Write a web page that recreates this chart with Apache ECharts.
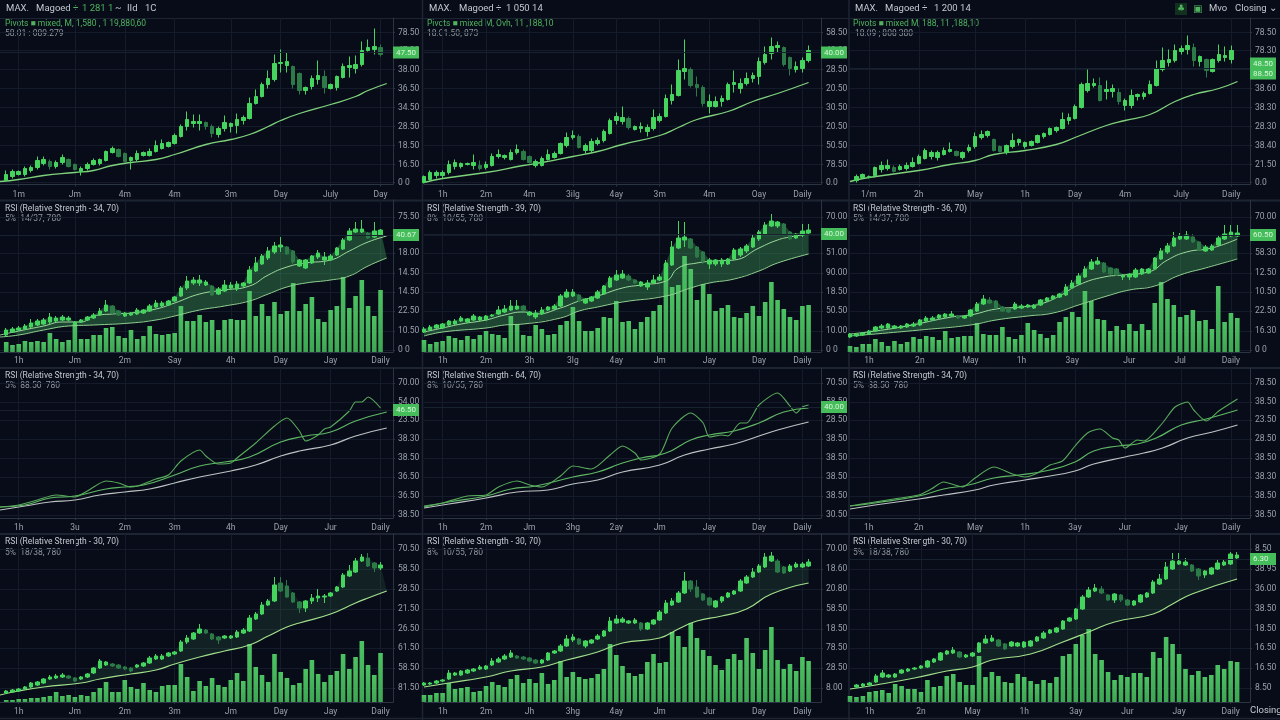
<!DOCTYPE html>
<html>
<head>
<meta charset="utf-8">
<style>html,body{margin:0;background:#080c18}#chart{width:1280px;height:720px}</style>
<script src="https://cdn.jsdelivr.net/npm/echarts@6/dist/echarts.min.js"></script>
</head>
<body>
<div id="chart"></div>
<script>
// Candles are [open, close, low, high]; all series share one price scale per panel.
const candlesR1C1 = [[4,10,3,14],[8,13,6,15],[10,13,9,14],[10,16,8,18],[14,17,12,19],[17,24,15,28],[21,25,19,28],[23,18,15,25],[18,22,16,24],[22,27,20,30],[25,18,17,26],[20,15,14,21],[13,16,9,18],[16,20,14,22],[20,24,19,26],[21,25,19,26],[24,33,23,34],[32,36,31,38],[35,28,27,36],[31,23,22,32],[24,27,15,28],[25,31,23,34],[29,32,28,33],[29,33,28,36],[33,39,32,44],[36,41,35,45],[38,42,37,43],[41,49,40,51],[48,58,47,60],[58,65,54,73],[61,63,57,70],[61,63,54,70],[62,58,55,63],[58,51,47,60],[50,56,47,58],[56,62,53,69],[58,61,52,62],[59,65,51,71],[64,67,60,69],[66,81,65,87],[81,88,80,95],[88,100,87,102],[100,106,96,114],[105,121,103,130],[121,122,112,135],[119,123,112,132],[118,100,96,119],[111,94,90,112],[94,97,90,98],[98,106,95,109],[105,109,100,124],[108,97,91,114],[96,100,95,101],[97,108,94,109],[107,118,106,121],[117,119,107,128],[116,120,111,129],[120,134,118,143],[134,137,133,145],[135,138,130,156],[137,130,128,140]];
const candlesR1C2 = [[2,8,1,9],[5,12,4,14],[9,12,6,14],[9,12,6,14],[12,20,10,24],[18,22,15,25],[18,21,16,22],[20,21,19,22],[19,22,15,30],[19,16,14,24],[17,20,15,23],[19,28,18,31],[28,30,26,35],[27,29,25,30],[25,32,24,35],[32,35,30,40],[33,25,24,35],[28,22,21,29],[19,23,17,25],[19,26,18,28],[25,30,24,35],[27,31,26,33],[31,41,30,42],[39,47,37,52],[47,49,45,54],[48,37,36,50],[34,39,31,41],[34,43,32,46],[41,44,39,47],[44,53,42,55],[51,64,50,66],[64,68,60,72],[63,67,60,78],[66,57,55,68],[55,58,54,59],[56,58,52,62],[53,57,48,60],[56,67,54,75],[64,68,62,71],[68,86,67,90],[84,90,80,100],[89,114,88,125],[113,116,105,145],[115,99,97,117],[100,97,88,108],[97,81,78,99],[78,83,71,90],[78,83,77,88],[83,86,78,89],[85,100,84,102],[100,102,92,114],[96,101,91,106],[101,106,99,112],[106,109,102,112],[108,123,100,127],[122,130,120,138],[131,138,125,147],[137,139,132,143],[137,120,118,138],[127,116,109,128],[115,118,112,123],[116,124,112,127],[124,134,122,139]];
const candlesR1C3 = [[4,8,2,10],[7,10,6,11],[7,8,6,9],[9,17,7,18],[15,19,12,23],[16,19,14,25],[17,13,12,19],[15,18,14,20],[16,19,14,22],[18,22,17,27],[21,28,20,30],[26,34,25,36],[28,32,25,34],[27,32,24,34],[30,34,29,37],[33,35,32,42],[33,29,28,34],[27,32,25,33],[34,37,32,40],[38,48,36,52],[47,50,45,54],[49,53,47,54],[45,34,33,46],[38,33,32,39],[32,39,30,40],[38,44,36,51],[42,45,39,46],[38,42,36,43],[39,43,38,44],[42,49,41,50],[48,51,46,52],[50,56,49,57],[54,57,52,58],[56,65,55,72],[64,67,60,71],[66,78,65,80],[77,100,76,102],[94,101,92,115],[99,101,97,106],[99,84,83,107],[93,95,85,104],[93,96,87,100],[92,83,80,96],[79,84,74,86],[79,89,76,95],[88,90,84,91],[88,91,85,93],[91,100,90,104],[99,116,98,124],[115,124,113,137],[122,125,118,135],[124,134,122,140],[133,136,130,139],[135,139,130,149],[137,124,118,141],[123,128,118,129],[125,114,107,126],[113,125,112,126],[124,130,122,140],[127,129,123,138],[125,134,121,139]];
const candlesR2C1 = [[17,22,15,24],[20,23,19,25],[22,24,21,26],[23,26,22,28],[25,29,24,33],[27,31,26,33],[28,32,27,34],[30,35,28,39],[31,34,30,36],[32,35,31,37],[32,34,31,36],[28,30,27,31],[30,32,29,33],[32,35,31,36],[34,37,33,39],[37,41,36,44],[41,47,40,52],[46,39,38,47],[41,37,36,42],[36,39,35,40],[37,39,36,40],[38,42,37,44],[39,42,38,43],[41,46,40,48],[45,49,44,52],[46,49,45,51],[47,51,46,52],[51,55,50,56],[56,64,55,66],[64,71,62,76],[69,72,67,75],[69,72,66,77],[67,70,66,72],[66,57,56,67],[58,63,57,65],[61,67,60,72],[64,67,62,70],[63,68,61,71],[66,69,65,70],[69,82,68,86],[81,89,80,95],[88,96,87,98],[94,101,92,105],[100,106,98,110],[105,107,100,115],[105,98,97,106],[101,90,88,102],[86,92,85,93],[84,92,83,93],[89,96,88,97],[95,99,93,102],[92,95,87,100],[92,96,91,98],[97,104,96,105],[103,112,102,114],[112,121,111,124],[120,123,119,130],[120,123,119,132],[119,114,113,120],[115,121,114,130],[117,122,116,123]];
const candlesR2C2 = [[20,23,19,25],[22,25,21,27],[24,27,23,28],[24,28,23,29],[27,31,26,32],[28,31,27,33],[31,34,30,36],[30,33,29,34],[32,36,31,38],[32,35,31,36],[32,36,31,37],[36,37,35,38],[38,42,37,46],[40,43,39,47],[42,46,41,52],[43,46,42,52],[46,42,41,47],[37,40,36,41],[35,39,33,42],[38,42,37,45],[42,45,41,46],[43,46,42,48],[46,56,45,58],[55,60,54,63],[56,60,55,63],[57,51,50,58],[49,53,48,54],[51,55,50,56],[54,60,53,62],[58,66,57,67],[65,74,64,76],[72,77,71,82],[74,78,73,82],[76,72,71,78],[72,69,68,73],[66,70,65,71],[65,69,62,72],[69,72,68,77],[72,75,71,78],[72,89,71,92],[87,105,86,111],[104,114,103,131],[112,115,105,130],[113,104,103,114],[105,95,94,106],[100,91,88,101],[88,92,83,94],[88,92,86,93],[88,92,85,94],[88,93,87,94],[93,102,92,104],[97,103,95,105],[101,106,99,108],[105,114,104,117],[113,120,111,122],[118,127,117,130],[126,131,125,138],[126,130,124,131],[128,118,117,129],[120,113,112,121],[114,118,113,119],[117,121,115,128],[119,122,118,128]];
const candlesR2C3 = [[15,18,14,19],[16,18,15,19],[17,19,16,20],[18,21,17,22],[21,25,20,26],[24,26,23,28],[24,28,23,29],[24,26,23,27],[24,26,23,27],[25,28,24,29],[26,28,25,30],[27,32,26,33],[31,34,30,36],[32,34,31,36],[34,37,33,38],[35,38,34,39],[36,38,35,41],[36,34,33,37],[34,36,33,37],[36,42,35,43],[41,48,40,50],[48,53,47,57],[52,49,48,55],[51,44,43,52],[45,41,40,46],[43,40,39,44],[43,48,42,50],[44,46,43,48],[45,47,44,48],[44,47,43,48],[47,52,46,53],[51,54,50,55],[53,56,52,57],[55,58,54,59],[57,65,56,68],[64,69,63,72],[68,76,67,79],[75,83,74,86],[83,90,82,93],[88,91,87,95],[89,80,79,90],[84,78,77,85],[83,77,76,84],[75,77,72,78],[75,78,72,79],[75,82,74,84],[78,83,77,84],[79,83,78,84],[83,94,82,95],[93,101,92,104],[100,106,98,109],[106,114,105,120],[113,116,112,119],[113,117,112,121],[115,110,109,118],[110,102,101,111],[101,105,100,107],[102,106,101,108],[107,114,106,116],[113,118,112,127],[116,120,115,127],[116,119,115,127]];
const candlesR4C1 = [[9,11,8,12],[10,12,9,13],[11,13,10,14],[13,15,12,16],[15,19,14,20],[17,20,16,21],[19,23,18,24],[23,25,22,27],[24,26,23,28],[25,27,24,29],[26,24,23,27],[24,21,20,25],[23,25,22,26],[25,28,24,29],[29,34,28,35],[34,41,33,43],[37,40,36,41],[38,36,35,39],[37,34,33,38],[35,33,32,36],[34,31,30,35],[35,37,34,38],[36,39,35,40],[39,44,38,46],[43,46,42,48],[43,46,42,48],[46,49,45,50],[48,50,47,51],[51,60,50,62],[60,64,58,67],[63,69,62,70],[69,73,68,78],[72,69,68,73],[68,63,62,69],[65,62,58,66],[64,66,63,67],[64,66,63,67],[65,70,64,72],[69,72,68,74],[71,84,70,87],[83,88,82,90],[88,97,87,100],[97,101,96,103],[101,117,100,125],[119,111,110,125],[116,105,104,122],[109,100,99,110],[100,94,89,101],[94,101,90,102],[101,104,98,108],[104,106,100,113],[105,106,99,108],[106,109,105,110],[111,115,110,116],[115,127,114,129],[126,131,125,137],[130,141,129,144],[141,145,140,148],[144,136,135,149],[139,134,130,140],[134,137,132,140]];
const candlesR4C2 = [[17,19,16,20],[18,19,17,20],[19,21,18,22],[21,22,20,23],[23,29,22,32],[27,29,26,30],[27,31,26,32],[29,32,28,33],[31,33,30,34],[33,35,32,37],[33,36,32,37],[37,41,36,44],[40,43,39,45],[43,46,42,48],[45,49,44,52],[46,44,43,47],[45,43,42,46],[44,41,40,45],[42,39,38,43],[39,42,38,43],[42,49,41,50],[49,51,48,52],[51,56,50,58],[56,63,55,67],[62,65,60,68],[63,58,57,64],[56,61,54,62],[59,62,58,63],[63,66,62,68],[66,71,65,72],[71,81,70,85],[79,83,78,87],[80,83,79,85],[79,81,78,82],[79,82,78,84],[79,73,71,80],[73,79,72,80],[78,82,77,83],[82,90,81,92],[89,99,88,102],[97,101,96,104],[100,109,99,111],[109,121,108,130],[121,113,110,122],[115,105,104,122],[108,102,101,109],[104,97,96,105],[95,101,94,102],[101,105,99,106],[105,109,104,110],[108,111,107,112],[111,121,110,123],[119,125,118,127],[125,130,124,134],[130,136,129,138],[135,145,134,149],[141,146,140,150],[141,130,129,143],[135,129,128,136],[131,136,130,138],[135,138,134,140],[135,138,134,140],[136,140,135,143]];
const candlesR4C3 = [[15,17,14,18],[16,18,15,19],[17,19,16,20],[20,26,19,28],[25,29,24,32],[25,27,24,28],[25,28,24,29],[29,32,28,33],[31,33,30,34],[33,34,32,35],[34,36,33,37],[35,41,34,42],[40,43,39,44],[42,49,41,50],[48,51,47,52],[49,52,48,55],[50,45,44,51],[45,47,44,48],[46,49,45,50],[50,59,49,60],[59,63,58,67],[61,64,60,67],[62,56,55,63],[58,53,52,59],[56,60,55,61],[56,59,55,60],[55,60,54,61],[56,61,55,62],[61,65,60,66],[64,69,63,71],[69,72,68,73],[70,74,69,75],[73,81,72,82],[81,84,80,85],[83,93,82,94],[93,105,92,107],[105,112,104,115],[111,114,110,118],[113,109,108,116],[107,102,101,108],[102,108,99,109],[107,102,100,108],[102,97,96,103],[97,101,96,102],[100,107,99,108],[105,109,104,110],[109,120,108,122],[118,123,117,128],[123,135,122,140],[133,141,132,149],[138,141,137,149],[137,140,136,144],[137,131,130,138],[133,126,122,134],[127,131,124,132],[128,134,127,135],[133,139,132,143],[137,140,136,142],[138,148,137,150],[144,147,143,150]];

// Volume columns for the second and fourth rows.
const volumeR2C1 = [10,7,8,11,10,11,10,19,13,10,12,28,13,13,17,17,24,25,16,14,22,13,16,26,18,17,18,19,46,31,31,37,30,32,22,32,33,32,32,61,36,48,36,50,38,41,69,41,48,55,33,30,42,46,75,44,56,72,46,36,62];
const volumeR2C2 = [12,8,10,11,16,14,12,16,13,17,21,18,17,14,36,28,17,16,27,23,17,18,27,31,45,31,21,21,24,35,34,51,30,31,23,30,35,41,47,88,65,67,96,83,52,68,58,41,44,47,35,34,39,46,36,50,70,52,43,35,32,46,47];
const volumeR2C3 = [6,5,8,8,13,10,6,11,8,10,15,13,16,15,12,21,14,15,16,16,29,18,17,17,25,15,13,17,29,22,18,14,17,30,35,40,35,61,51,33,32,21,26,22,28,21,28,22,49,70,53,47,35,37,42,31,32,23,66,30,39,34];
const volumeR4C1 = [2,2,3,3,4,4,5,6,10,6,7,5,7,6,10,14,20,10,10,22,15,13,19,12,10,16,17,17,38,25,11,21,16,24,17,15,22,29,21,58,35,27,20,48,30,24,17,19,33,42,28,20,27,31,48,33,45,61,37,27,49];
const volumeR4C2 = [7,7,9,9,19,13,14,15,10,11,16,20,17,15,23,27,19,23,19,29,18,22,41,25,30,25,23,24,28,33,58,47,36,29,26,28,40,48,39,40,70,66,55,79,64,52,46,37,32,43,48,42,64,49,33,52,75,42,33,38,31,45,41];
const volumeR4C3 = [6,5,6,10,11,12,9,18,16,13,13,10,22,15,16,26,28,20,17,17,46,25,30,26,20,19,28,25,21,18,22,19,25,46,48,58,67,73,48,42,30,22,27,25,29,29,25,50,44,65,58,48,33,27,31,25,27,37,33,41,40];

// Moving averages as [slot, value] anchors.
const maR1C1 = [[0,3],[3,5],[7,9],[12,12],[15,14],[18,19],[21,22],[25,25],[28,30],[33,40],[37,45],[40,50],[43,58],[45,64],[48,71],[53,80],[57,88],[59,94],[62,101]];
const maR1C2 = [[0,2],[3,6],[10,12],[16,19],[19,22],[24,28],[28,33],[32,40],[38,49],[41,57],[44,65],[49,73],[53,83],[57,91],[62,102]];
const maR1C3 = [[0,3],[3,7],[11,14],[16,20],[20,24],[23,30],[28,34],[33,40],[36,47],[41,59],[44,64],[48,70],[52,83],[55,90],[59,96],[62,103]];
const midR2C1 = [[0,17],[3,21],[7,26],[10,30],[13,30],[15,36],[18,38],[21,39],[25,43],[28,49],[32,58],[36,62],[40,66],[43,77],[46,85],[49,89],[53,92],[56,101],[59,110],[62,116]];
const lowR2C1 = [[0,15],[3,17],[7,22],[11,26],[15,27],[21,29],[25,32],[28,36],[32,42],[36,46],[40,51],[43,58],[46,65],[49,69],[53,72],[56,76],[59,86],[62,94]];
const midR2C2 = [[0,20],[3,24],[6,28],[10,32],[13,37],[16,40],[18,38],[22,44],[25,51],[28,56],[32,64],[35,67],[39,71],[41,84],[44,89],[47,91],[50,92],[54,104],[57,112],[59,115],[62,118]];
const lowR2C2 = [[0,16],[3,20],[10,24],[13,27],[16,28],[22,34],[25,41],[28,45],[32,50],[39,56],[43,64],[46,69],[50,73],[54,81],[57,89],[62,98]];
const midR2C3 = [[0,18],[4,21],[9,26],[16,35],[19,37],[23,43],[27,45],[30,48],[33,56],[36,67],[40,75],[43,77],[47,80],[50,92],[53,100],[57,104],[61,113]];
const lowR2C3 = [[0,16],[4,18],[11,22],[19,27],[23,32],[28,36],[32,39],[36,47],[41,57],[44,62],[48,66],[52,77],[56,84],[61,93]];
const maR4C1 = [[0,7],[3,11],[7,15],[13,19],[16,23],[21,28],[25,32],[28,38],[32,45],[36,51],[40,57],[43,66],[46,75],[48,79],[53,88],[57,99],[59,104],[62,111]];
const maR4C2 = [[0,15],[4,19],[10,25],[14,31],[19,35],[23,42],[28,50],[32,59],[38,64],[41,73],[44,81],[48,86],[52,93],[56,108],[62,119]];
const maR4C3 = [[0,13],[4,17],[10,24],[15,31],[19,35],[22,42],[28,48],[33,60],[37,70],[41,80],[47,88],[50,98],[53,108],[60,123]];

// Third row: RSI with two signal averages.
const rsiR3C1 = [[0,11],[3,13],[6,18],[9,23],[12,21],[14,27],[17,37],[19,35],[21,31],[22,32],[25,39],[27,43],[29,57],[32,68],[33,62],[35,54],[37,55],[38,60],[41,75],[44,92],[46,100],[48,87],[49,77],[51,83],[52,89],[53,91],[56,107],[57,116],[58,116],[59,121],[61,110]];
const sigR3C1 = [[0,11],[4,13],[8,20],[12,22],[17,29],[20,31],[23,33],[28,43],[32,52],[36,56],[40,61],[45,76],[49,82],[53,86],[57,97],[62,106]];
const baseR3C1 = [[0,8],[4,12],[8,16],[12,18],[16,23],[20,26],[24,29],[28,35],[32,41],[37,47],[41,53],[45,62],[48,67],[53,73],[57,82],[62,90]];
const rsiR3C2 = [[0,12],[3,15],[7,22],[10,23],[12,31],[15,37],[17,33],[19,31],[22,42],[24,52],[27,49],[30,63],[32,72],[34,65],[35,58],[38,64],[40,90],[43,105],[45,95],[46,81],[48,83],[49,82],[51,95],[52,95],[54,113],[57,125],[59,112],[60,105],[61,111],[62,113]];
const sigR3C2 = [[0,11],[4,16],[10,22],[14,29],[18,32],[24,41],[28,46],[32,55],[35,60],[39,65],[43,78],[46,83],[50,87],[54,95],[58,106],[62,110]];
const baseR3C2 = [[0,10],[4,14],[10,20],[15,26],[20,28],[24,34],[28,38],[32,46],[38,53],[42,63],[46,69],[50,74],[54,82],[57,88],[62,96]];
const rsiR3C3 = [[0,12],[3,15],[7,19],[11,23],[13,29],[15,36],[18,31],[20,40],[23,51],[26,44],[28,41],[30,45],[32,53],[34,57],[36,72],[38,85],[40,89],[42,80],[43,78],[44,70],[46,78],[47,77],[50,95],[52,111],[54,116],[55,108],[57,97],[59,107],[62,119]];
const sigR3C3 = [[0,12],[4,15],[11,22],[15,29],[19,33],[23,40],[27,43],[32,48],[36,56],[39,67],[43,72],[46,74],[49,80],[53,93],[57,99],[62,108]];
const baseR3C3 = [[0,9],[4,13],[11,19],[15,23],[20,28],[23,33],[28,38],[32,42],[36,47],[39,54],[44,61],[47,65],[50,70],[54,80],[58,86],[62,93]];

// Price ticks and their labels, listed bottom to top.
const priceTicksR1 = [2,20,39,58,77,96,115,134,152];
const priceTicksR2 = [2,21,41,60,79,99,117,135];
const priceTicksR3 = [3,22,41,60,79,98,116,135];
const priceTicksR4 = [14,34,54,73,93,113,133,153];
const priceLabelsR1C1 = ['0 0','16.50','18.50','28.50','34.50','36.50','38.00','47.00','78.50'];
const priceLabelsR1C2 = ['0.0','78.50','50.50','20.50','30.50','20.50','28.50','40.00','58.50'];
const priceLabelsR1C3 = ['0.0','21.50','38.40','28.30','38.30','38.60','26.30','78.30','78.50'];
const priceLabelsR2C1 = ['0 0','10.50','22.50','14.50','14.50','18.00','47.50','75.50'];
const priceLabelsR2C2 = ['0 0','10.00','50.50','18.50','90.00','51.00','40.00','70.00'];
const priceLabelsR2C3 = ['0 0','16.30','22.50','10.50','12.50','58.30','40.50','70.00'];
const priceLabelsR3C1 = ['38.50','36.50','36.50','38.50','38.30','23.50','54.00','70.00'];
const priceLabelsR3C2 = ['30.50','38.50','38.50','38.50','38.50','28.50','58.50','70.50'];
const priceLabelsR3C3 = ['38.50','38.50','38.30','38.50','28.50','23.50','38.50','78.50'];
const priceLabelsR4C1 = ['81.50','58.50','61.50','26.50','21.50','28.50','58.50','70.50'];
const priceLabelsR4C2 = ['8.00','28.50','78.50','18.50','58.50','20.80','18.60','70.00'];
const priceLabelsR4C3 = ['8.50','16.50','16.50','18.50','38.50','36.00','38.95','8.50'];

// Time axis: slot of each tick and its text.
const timeTicksC1 = [3,12,20,28,37,45,53,61];
const timeTicksC2 = [3,10,17,24,31,38,46,54,61];
const timeTicksC3 = [3,11,20,28,36,44,53,61];
const timeTicksR2C3 = [3,11,19,27,35,44,52,60];
const timeTicksR4C3 = [3,11,19,27,35,43,51,59];
const timeLabelsR1C1 = ['1m','Jm','4m','4m','3m','Day','July','Day'];
const timeLabelsR2C1 = ['1h','Jm','2m','Say','4h','Day','Jay','Daily'];
const timeLabelsR3C1 = ['1h','3u','2m','3m','4h','Day','Jur','Daily'];
const timeLabelsR4C1 = ['1h','Jm','2m','3m','Jm','Day','Jay','Daily'];
const timeLabelsR1C2 = ['1h','2m','4m','3ilg','4ay','3m','4m','Oay','Daily'];
const timeLabelsR2C2 = ['1h','2m','3h','3lg','4ay','Jm','Jay','Day','Daily'];
const timeLabelsR3C2 = ['1h','2m','Jm','3hg','2ay','Jm','Jay','Day','Daily'];
const timeLabelsR4C2 = ['1h','2m','Jh','3hg','4ay','Jm','Jur','Day','Daily'];
const timeLabelsR1C3 = ['1/m','2h','May','1h','Day','4m','July','Daily'];
const timeLabelsR2C3 = ['1h','2n','May','1h','3ay','Jur','Jul','Daily'];
const timeLabelsR3C3 = ['1h','2n','May','1h','3ay','Jur','Jay','Daily'];
const timeLabelsR4C3 = ['1h','2n','May','1h','3ay','Jur','Jay','Daily'];

// Last-price tags: level and caption.
const tagLevels = {r1c1:132,r1c2:132,r1c3:116,r2c1:117,r2c2:118,r2c3:117,r3c1:108,r3c2:111,r4c3:143};
const tagCaptions = {r1c1:'47.50',r1c2:'40.00',r1c3:'48.50\n88.50',r2c1:'40.67',r2c2:'40.00',r2c3:'60.50',r3c1:'46.50',r3c2:'40.00',r4c3:'6.30'};

const BG = '#080c18';
const UP = '#45d45e', DOWN = '#2b7a47', AXIS = '#2a3442', GRID = '#141c2b', TICK = '#98a1ab';
const columns = [{left:0,width:393},{left:424,width:397},{left:850,width:400}];
const rows = [{top:18,bottom:184.5},{top:200,bottom:352},{top:368,bottom:518},{top:534,bottom:702}];

const panels = [
  {id:'r1c1',r:0,c:0,slots:64,first:1,candles:candlesR1C1,lines:[[maR1C1,'#7fd27c',1.3]],ticks:priceTicksR1,tickText:priceLabelsR1C1,times:timeTicksC1,timeText:timeLabelsR1C1},
  {id:'r1c2',r:0,c:1,slots:65,first:0,candles:candlesR1C2,lines:[[maR1C2,'#7fd27c',1.3]],ticks:priceTicksR1,tickText:priceLabelsR1C2,times:timeTicksC2,timeText:timeLabelsR1C2},
  {id:'r1c3',r:0,c:2,slots:65,first:1,candles:candlesR1C3,lines:[[maR1C3,'#7fd27c',1.3]],ticks:priceTicksR1,tickText:priceLabelsR1C3,times:timeTicksC3,timeText:timeLabelsR1C3},
  {id:'r2c1',r:1,c:0,slots:64,first:1,barFirst:1,candles:candlesR2C1,volume:volumeR2C1,low:lowR2C1,fill:'rgba(62,150,88,0.42)',lines:[[midR2C1,'#9ddc9c',1],[lowR2C1,'#8fd08f',1]],ticks:priceTicksR2,tickText:priceLabelsR2C1,times:timeTicksC1,timeText:timeLabelsR2C1},
  {id:'r2c2',r:1,c:1,slots:65,first:0,barFirst:0,candles:candlesR2C2,volume:volumeR2C2,low:lowR2C2,fill:'rgba(62,150,88,0.42)',lines:[[midR2C2,'#9ddc9c',1],[lowR2C2,'#8fd08f',1]],ticks:priceTicksR2,tickText:priceLabelsR2C2,times:timeTicksC2,timeText:timeLabelsR2C2},
  {id:'r2c3',r:1,c:2,slots:64,first:0,barFirst:0,candles:candlesR2C3,volume:volumeR2C3,low:lowR2C3,fill:'rgba(62,150,88,0.42)',lines:[[midR2C3,'#9ddc9c',1],[lowR2C3,'#8fd08f',1]],ticks:priceTicksR2,tickText:priceLabelsR2C3,times:timeTicksR2C3,timeText:timeLabelsR2C3},
  {id:'r3c1',r:2,c:0,slots:64,lines:[[baseR3C1,'#bcc3c4',1.2],[sigR3C1,'#5fb765',1.2],[rsiR3C1,'#58aa5b',1.1,0.25]],ticks:priceTicksR3,tickText:priceLabelsR3C1,times:timeTicksC1,timeText:timeLabelsR3C1},
  {id:'r3c2',r:2,c:1,slots:65,lines:[[baseR3C2,'#bcc3c4',1.2],[sigR3C2,'#5fb765',1.2],[rsiR3C2,'#58aa5b',1.1,0.25]],ticks:priceTicksR3,tickText:priceLabelsR3C2,times:timeTicksC2,timeText:timeLabelsR3C2},
  {id:'r3c3',r:2,c:2,slots:65,lines:[[baseR3C3,'#bcc3c4',1.2],[sigR3C3,'#5fb765',1.2],[rsiR3C3,'#58aa5b',1.1,0.25]],ticks:priceTicksR3,tickText:priceLabelsR3C3,times:timeTicksC3,timeText:timeLabelsR3C3},
  {id:'r4c1',r:3,c:0,slots:64,first:1,barFirst:1,candles:candlesR4C1,volume:volumeR4C1,low:maR4C1,fill:'rgba(70,150,100,0.17)',lines:[[maR4C1,'#a2e08c',1.2]],ticks:priceTicksR4,tickText:priceLabelsR4C1,times:timeTicksC1,timeText:timeLabelsR4C1},
  {id:'r4c2',r:3,c:1,slots:65,first:0,barFirst:0,candles:candlesR4C2,volume:volumeR4C2,low:maR4C2,fill:'rgba(70,150,100,0.17)',lines:[[maR4C2,'#a2e08c',1.2]],ticks:priceTicksR4,tickText:priceLabelsR4C2,times:timeTicksC2,timeText:timeLabelsR4C2},
  {id:'r4c3',r:3,c:2,slots:63,first:1,barFirst:0,candles:candlesR4C3,volume:volumeR4C3,low:maR4C3,fill:'rgba(70,150,100,0.17)',lines:[[maR4C3,'#a2e08c',1.2]],ticks:priceTicksR4,tickText:priceLabelsR4C3,times:timeTicksR4C3,timeText:timeLabelsR4C3}
];

const labelMargin = [6, 4, 5, 5];
const grids = [], xAxes = [], yAxes = [], series = [];

panels.forEach((p, k) => {
  const col = columns[p.c], row = rows[p.r];
  const height = row.bottom - row.top;
  grids.push({left:col.left, top:row.top, width:col.width, height});
  xAxes.push({
    type:'category', gridIndex:k, boundaryGap:false,
    data:Array.from({length:p.slots}, (_, i) => String(i)),
    axisLine:{lineStyle:{color:AXIS}},
    axisTick:{show:true, length:2, lineStyle:{color:AXIS}, interval:i => p.times.includes(i)},
    splitLine:{show:true, lineStyle:{color:GRID}, interval:i => p.times.includes(i)},
    axisLabel:{
      color:TICK, fontFamily:'Roboto', fontSize:8.5, margin:labelMargin[p.r],
      interval:i => p.times.includes(i),
      formatter:(v, i) => p.timeText[p.times.indexOf(i)]
    }
  });
  yAxes.push({
    type:'value', gridIndex:k, position:'right', min:0, max:height,
    axisLine:{show:true, lineStyle:{color:AXIS}},
    axisTick:{show:true, length:2, lineStyle:{color:AXIS}, customValues:p.ticks},
    splitLine:{show:true, lineStyle:{color:GRID}},
    axisLabel:{
      color:TICK, fontFamily:'Roboto', fontSize:8.5, margin:5, customValues:p.ticks,
      formatter:v => p.tickText[p.ticks.indexOf(v)]
    }
  });

  const axes = {xAxisIndex:k, yAxisIndex:k};

  // Shaded band between the candle tops and the lower average.
  if (p.low) {
    series.push({
      type:'custom', ...axes, silent:true, data:[[0,0]], z:1,
      renderItem:(params, api) => {
        const top = p.candles.map((q, i) => api.coord([i + p.first, Math.max(q[0], q[1])]));
        const bottom = p.low.slice().reverse()
          .filter(q => q[0] >= p.first && q[0] <= p.first + p.candles.length)
          .map(q => api.coord(q));
        return {type:'polygon', shape:{points:top.concat(bottom)}, style:{fill:p.fill}};
      }
    });
  }
  if (p.volume) {
    series.push({
      type:'bar', ...axes, barWidth:4.6, z:2, silent:true,
      itemStyle:{color:{type:'linear',x:0,y:0,x2:0,y2:1,colorStops:[{offset:0,color:'#4cc262'},{offset:1,color:'#3ea653'}]}},
      data:Array(p.barFirst).fill('-').concat(p.volume)
    });
  }
  p.lines.forEach(([data, color, width, curve]) => {
    series.push({
      type:'line', ...axes, data, z:3, smooth:curve === undefined ? 0.5 : curve, showSymbol:false, silent:true,
      lineStyle:{color, width}
    });
  });
  if (p.candles) {
    series.push({
      type:'candlestick', ...axes, z:4, barWidth:4, silent:true,
      itemStyle:{color:UP, color0:DOWN, borderColor:UP, borderColor0:DOWN, borderWidth:1},
      data:Array(p.first).fill('-').concat(p.candles)
    });
  }
  // Last-price tag sits just outside the right axis.
  if (tagLevels[p.id] !== undefined) {
    series.push({
      type:'line', ...axes, data:[], silent:true,
      markLine:{
        silent:true, symbol:'none', animation:false,
        lineStyle:{color:'#18212f', type:'solid', width:1},
        label:{
          position:'end', distance:0, formatter:tagCaptions[p.id], color:'#d6f5da',
          fontFamily:'Roboto', fontSize:8, lineHeight:10, align:'left',
          backgroundColor:'#46bd5b', padding:[1,3,1,3], width:20
        },
        data:[{yAxis:tagLevels[p.id]}]
      }
    });
  }
});

// Static panel furniture: dividers and header text.
const text = (x, y, t, fill, font) => ({type:'text', silent:true, x, y, style:{text:t, fill, font:font || '8.5px Roboto', verticalAlign:'middle'}});
const divider = (x1, y1, x2, y2, w) => ({type:'line', silent:true, shape:{x1, y1, x2, y2}, style:{stroke:'#1d2533', lineWidth:w}});
const WHITE = '#c3c9d0', DIM = '#8f97a0', GREEN = '#4fb35f', HEAD = '9.5px Roboto';
const titles = [
  [5,209,'RSI (Relative Strength - 34, 70)',5,219,'5%  14/37, 780',DIM],
  [427,209,'RSI (Relative Strength - 39, 70)',427,219,'8%  10/55, 780',DIM],
  [853,209,'RSI (Relative Strength - 36, 70)',853,219,'5%  14/37, 780',DIM],
  [5,376,'RSI (Relative Strength - 34, 70)',5,386,'5%  88.50  780',DIM],
  [427,376,'RSI (Relative Strength - 64, 70)',427,386,'8%  10/55, 780',DIM],
  [853,376,'RSI (Relative Strength - 34, 70)',853,386,'5%  88.50  780',DIM],
  [5,542,'RSI (Relative Strength - 30, 70)',5,553,'5%  18/38, 780',DIM],
  [427,542,'RSI (Relative Strength - 30, 70)',427,553,'8%  10/55, 780',DIM],
  [853,542,'RSI (Relative Strength - 30, 70)',853,553,'5%  18/38, 780',DIM]
];
const graphic = [
  divider(0,18.5,1280,18.5,1), divider(0,200.5,1280,200.5,2), divider(0,368,1280,368,2), divider(0,534,1280,534,2),
  divider(422.5,0,422.5,720,1.5), divider(849,0,849,720,1.5), divider(0,718.5,1280,718.5,1.5),
  text(6,9,'MAX.   Magoed',WHITE,HEAD), text(73,9,'÷',GREEN,HEAD), text(82,9,'1 281 1',GREEN,HEAD), text(115,9,'~',WHITE,HEAD), text(127,9,'IId',WHITE,HEAD), text(145,9,'1C',WHITE,HEAD),
  text(5,24,'Pivots ■ mixed, M, 1,580 , 1 19,880,60',GREEN), text(5,34,'58.01 : 089.279',DIM),
  text(429,9,'MAX.   Magoed',WHITE,HEAD), text(496,9,'÷',WHITE,HEAD), text(506,9,'1 050 14',WHITE,HEAD),
  text(427,24,'Pivots ■ mixed M, Ovh, 11 ,188,10',GREEN), text(427,34,'18.01.50, 873',DIM),
  text(855,9,'MAX.   Magoed',WHITE,HEAD), text(922,9,'÷',WHITE,HEAD), text(934,9,'1 200 14',WHITE,HEAD),
  text(853,24,'Pivots ■ mixed M, 188, 11 ,188,10',GREEN), text(855,34,'18.09 ; 808 380',DIM),
  {type:'rect', silent:true, shape:{x:1175,y:3,width:12,height:12}, style:{fill:'#12301f'}},
  text(1177,9,'♣',GREEN,'9px "DejaVu Sans"'), text(1193,9,'▣',GREEN,'10px "DejaVu Sans"'),
  text(1209,9,'Mvo',WHITE,HEAD), text(1235,9,'Closing',WHITE,HEAD), text(1269,9,'⌄',WHITE,HEAD),
  text(1250,711,'Closing',WHITE,HEAD)
];
titles.forEach(([x, y, t, sx, sy, sub, subColor]) => graphic.push(text(x, y, t, WHITE), text(sx, sy, sub, subColor)));

const chart = echarts.init(document.getElementById('chart'), null, {renderer:'canvas'});
chart.setOption({
  backgroundColor:BG, animation:false,
  grid:grids, xAxis:xAxes, yAxis:yAxes, series, graphic
});
</script>
</body>
</html>
